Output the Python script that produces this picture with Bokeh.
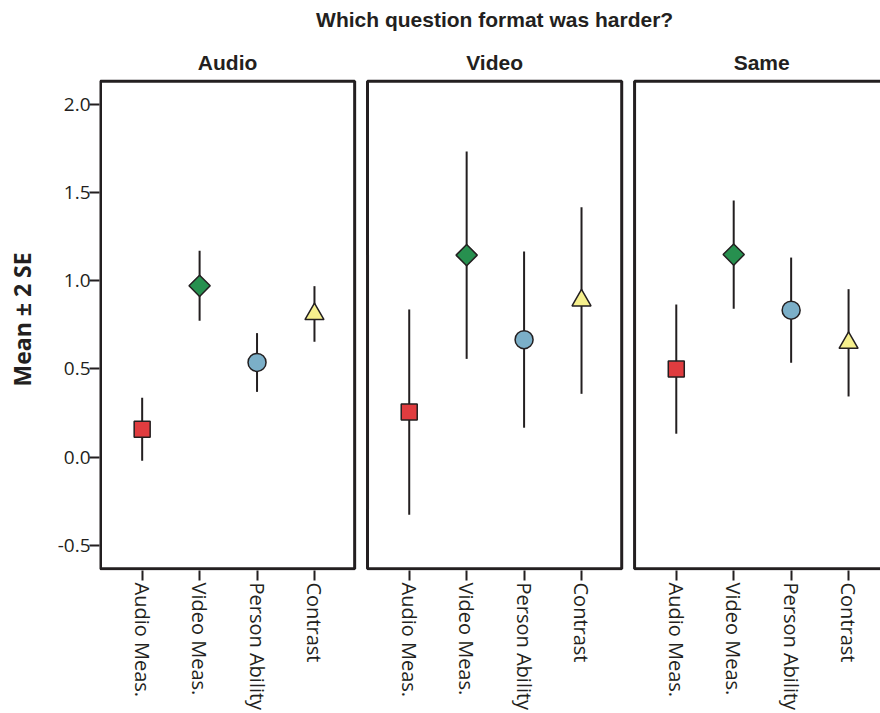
import math
from bokeh.plotting import figure
from bokeh.layouts import row
from bokeh.models import (BoxAnnotation, Label, FixedTicker, ColumnDataSource,
                          Range1d, NumeralTickFormatter)
from bokeh.embed import file_html
from bokeh.resources import INLINE

# ---------------- data ----------------
title_text = "Which question format was harder?"
panels = ["Audio", "Video", "Same"]
categories = ["Audio Meas.", "Video Meas.", "Person Ability", "Contrast"]

audio_mean = [0.158, 0.971, 0.537, 0.811]
audio_lo = [-0.020, 0.773, 0.370, 0.654]
audio_hi = [0.337, 1.169, 0.703, 0.969]

video_mean = [0.256, 1.145, 0.666, 0.888]
video_lo = [-0.326, 0.557, 0.167, 0.359]
video_hi = [0.837, 1.732, 1.165, 1.416]

same_mean = [0.499, 1.148, 0.833, 0.648]
same_lo = [0.133, 0.841, 0.535, 0.344]
same_hi = [0.865, 1.454, 1.131, 0.952]

y_ticks = [-0.5, 0.0, 0.5, 1.0, 1.5, 2.0]
y_label = "Mean \u00b1 2 SE"

# ---------------- styling ----------------
DARK = "#231f20"
marker_kind = ["square", "square", "circle", "triangle"]
marker_angle = [0.0, math.pi / 4, 0.0, 0.0]
marker_size = [16, 15, 18, 19]
marker_fill = ["#e03c3f", "#27904f", "#7bafc8", "#f6f08d"]

G = 4.65               # offset between panels in x units
X0, X1 = 0.274, 4.70   # panel box extent relative to panel offset
Y0, Y1 = -0.632, 2.13  # panel box extent in y

LW = 40  # width of the strip holding the y-axis title

# ---- strip with the rotated y-axis title ----
lab = figure(width=LW, height=713, output_backend="svg", toolbar_location=None,
             x_range=Range1d(0, LW), y_range=Range1d(0, 713),
             min_border=0, x_axis_location=None, y_axis_location=None)
lab.outline_line_color = None
lab.xgrid.visible = False
lab.ygrid.visible = False
lab.add_layout(Label(x=21, y=314, text=y_label, angle=math.pi / 2,
                     text_align="center", text_baseline="middle",
                     text_font="Open Sans", text_font_style="bold",
                     text_font_size="23px", text_color=DARK))

# ---- main plot ----
p = figure(width=880 - LW, height=713, output_backend="svg", toolbar_location=None,
           x_range=Range1d(0.257, 13.856), y_range=Range1d(-0.642, 2.5875),
           min_border_left=99 - LW, min_border_right=0, min_border_top=0,
           min_border_bottom=143)
p.outline_line_color = None
p.xgrid.visible = False
p.ygrid.visible = False
p.background_fill_color = "white"
p.border_fill_color = "white"

all_means = [audio_mean, video_mean, same_mean]
all_lo = [audio_lo, video_lo, same_lo]
all_hi = [audio_hi, video_hi, same_hi]

xs, ms, los, his, kinds, angs, sizes, fills = [], [], [], [], [], [], [], []
tick_pos, overrides = [], {}
for pi_, name in enumerate(panels):
    off = pi_ * G
    box = BoxAnnotation(left=off + X0, right=off + X1, bottom=Y0, top=Y1,
                        fill_alpha=0, fill_color=None, line_color=DARK,
                        line_alpha=1.0, line_width=3)
    p.add_layout(box)
    p.add_layout(Label(x=off + (X0 + X1) / 2, y=2.236, text=name,
                       text_align="center", text_baseline="alphabetic",
                       text_font="Liberation Sans", text_font_style="bold",
                       text_font_size="21px", text_color=DARK))
    for ci, cat in enumerate(categories):
        xv = off + ci + 1
        tick_pos.append(xv)
        overrides[xv] = cat
        xs.append(xv)
        ms.append(all_means[pi_][ci])
        los.append(all_lo[pi_][ci])
        his.append(all_hi[pi_][ci])
        kinds.append(marker_kind[ci])
        angs.append(marker_angle[ci])
        sizes.append(marker_size[ci])
        fills.append(marker_fill[ci])

src = ColumnDataSource(dict(x=xs, m=ms, lo=los, hi=his, kind=kinds, ang=angs,
                            size=sizes, fill=fills))

p.segment(x0="x", y0="lo", x1="x", y1="hi", source=src, line_color=DARK, line_width=2)
p.scatter(x="x", y="m", marker="kind", angle="ang", size="size", fill_color="fill",
          line_color=DARK, line_width=1.5, source=src)

# title
p.add_layout(Label(x=G + (X0 + X1) / 2, y=2.481, text=title_text,
                   text_align="center", text_baseline="alphabetic",
                   text_font="Liberation Sans", text_font_style="bold",
                   text_font_size="21px", text_color=DARK))

# axes
xa = p.xaxis[0]
xa.ticker = FixedTicker(ticks=tick_pos)
xa.major_label_overrides = overrides
xa.major_label_orientation = -math.pi / 2
xa.axis_line_color = None
xa.major_tick_in = 0
xa.major_tick_out = 10
xa.major_tick_line_color = DARK
xa.major_tick_line_width = 2
xa.minor_tick_line_color = None
xa.major_label_standoff = 2
xa.major_label_text_font = "Open Sans"
xa.major_label_text_font_size = "20px"
xa.major_label_text_color = DARK

ya = p.yaxis[0]
ya.ticker = FixedTicker(ticks=y_ticks)
ya.formatter = NumeralTickFormatter(format="0.0")
ya.axis_line_color = None
ya.major_tick_in = 0
ya.major_tick_out = 10
ya.major_tick_line_color = DARK
ya.major_tick_line_width = 2
ya.minor_tick_line_color = None
ya.major_label_standoff = -1
ya.major_label_text_font = "Open Sans"
ya.major_label_text_font_size = "19px"
ya.major_label_text_color = DARK

layout = row(lab, p, spacing=0)
open("out.html", "w").write(file_html(layout, INLINE))
